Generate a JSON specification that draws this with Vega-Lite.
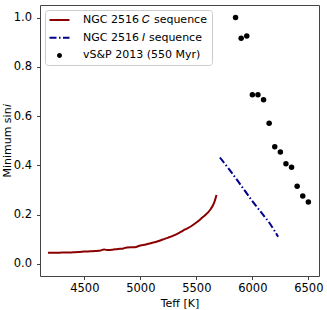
{
  "$schema": "https://vega.github.io/schema/vega-lite/v6.json",
  "width": 279,
  "height": 271,
  "autosize": {"type": "none"},
  "padding": {"left": 40, "top": 5, "right": 8, "bottom": 34},
  "background": "white",
  "config": {
    "font": "DejaVu Sans",
    "view": {"stroke": "#444", "strokeWidth": 1},
    "axis": {
      "domain": false,
      "grid": false,
      "tickColor": "#444",
      "tickSize": 3.5,
      "labelFontSize": 11.5,
      "labelColor": "black",
      "labelFont": "DejaVu Sans",
      "titleFont": "DejaVu Sans",
      "titleFontSize": 11,
      "titleFontWeight": "normal",
      "titleColor": "black",
      "labelPadding": 3
    }
  },
  "datasets": {
    "cseq": [
      {"T": 4175, "s": 0.045}, {"T": 4250, "s": 0.045}, {"T": 4300, "s": 0.046}, {"T": 4350, "s": 0.046},
      {"T": 4400, "s": 0.047}, {"T": 4450, "s": 0.048}, {"T": 4500, "s": 0.050}, {"T": 4550, "s": 0.051},
      {"T": 4600, "s": 0.052}, {"T": 4650, "s": 0.055}, {"T": 4675, "s": 0.059}, {"T": 4700, "s": 0.057},
      {"T": 4750, "s": 0.058}, {"T": 4800, "s": 0.061}, {"T": 4850, "s": 0.063}, {"T": 4880, "s": 0.067},
      {"T": 4950, "s": 0.068}, {"T": 5000, "s": 0.075}, {"T": 5050, "s": 0.079}, {"T": 5100, "s": 0.085},
      {"T": 5150, "s": 0.091}, {"T": 5200, "s": 0.099}, {"T": 5250, "s": 0.107}, {"T": 5300, "s": 0.116},
      {"T": 5350, "s": 0.127}, {"T": 5400, "s": 0.140}, {"T": 5450, "s": 0.152}, {"T": 5500, "s": 0.168},
      {"T": 5550, "s": 0.187}, {"T": 5600, "s": 0.207}, {"T": 5630, "s": 0.224}, {"T": 5660, "s": 0.250},
      {"T": 5680, "s": 0.280}
    ],
    "iseq": [
      {"T": 5710, "s": 0.432}, {"T": 5800, "s": 0.380}, {"T": 5900, "s": 0.318}, {"T": 6000, "s": 0.255},
      {"T": 6100, "s": 0.197}, {"T": 6150, "s": 0.168}, {"T": 6200, "s": 0.133}, {"T": 6230, "s": 0.110}
    ],
    "vsp": [
      {"T": 5850, "s": 1.0}, {"T": 5900, "s": 0.916}, {"T": 5950, "s": 0.925}, {"T": 6000, "s": 0.687},
      {"T": 6050, "s": 0.687}, {"T": 6100, "s": 0.666}, {"T": 6150, "s": 0.571}, {"T": 6200, "s": 0.476},
      {"T": 6250, "s": 0.454}, {"T": 6300, "s": 0.407}, {"T": 6350, "s": 0.392}, {"T": 6400, "s": 0.315},
      {"T": 6450, "s": 0.276}, {"T": 6500, "s": 0.251}
    ]
  },
  "encoding": {
    "x": {
      "field": "T", "type": "quantitative",
      "scale": {"domain": [4104, 6595], "nice": false, "zero": false},
      "axis": {"values": [4500, 5000, 5500, 6000, 6500], "format": "d", "title": "Teff [K]", "titlePadding": 3}
    },
    "y": {
      "field": "s", "type": "quantitative",
      "scale": {"domain": [-0.049, 1.051], "nice": false, "zero": false},
      "axis": {"values": [0, 0.2, 0.4, 0.6, 0.8, 1.0], "format": ".1f", "title": "Minimum sin𝑖", "titlePadding": 1, "labelPadding": 5}
    }
  },
  "layer": [
    {
      "data": {"name": "cseq"},
      "transform": [{"calculate": "'NGC 2516 𝐶 sequence'", "as": "series"}],
      "mark": {"type": "line", "strokeWidth": 2, "interpolate": "monotone"},
      "encoding": {
        "color": {
          "field": "series", "type": "nominal",
          "scale": {
            "domain": ["NGC 2516 𝐶 sequence", "NGC 2516 𝐼 sequence", "vS&P 2013 (550 Myr)"],
            "range": ["#8b0000", "#00008b", "black"]
          },
          "legend": {
            "title": null,
            "orient": "top-left",
            "offset": 5,
            "padding": 4.5,
            "fillColor": "rgba(255,255,255,0.8)",
            "strokeColor": "#cccccc",
            "cornerRadius": 3,
            "labelFont": "DejaVu Sans",
            "labelFontSize": 11,
            "labelColor": "black",
            "symbolSize": 100,
            "symbolOffset": 4.5,
            "labelOffset": 18,
            "rowPadding": 5.7,
            "symbolStrokeWidth": 2,
            "encode": {
              "symbols": {
                "update": {
                  "shape": {"signal": "datum.value === 'vS&P 2013 (550 Myr)' ? 'M0,-0.5A0.5,0.5 0 1,1 0,0.5A0.5,0.5 0 1,1 0,-0.5Z' : 'M-2,0H2'"},
                  "fill": {"signal": "datum.value === 'vS&P 2013 (550 Myr)' ? 'black' : 'transparent'"},
                  "stroke": {"signal": "datum.value === 'vS&P 2013 (550 Myr)' ? 'black' : (datum.value === 'NGC 2516 𝐶 sequence' ? '#8b0000' : '#00008b')"},
                  "strokeWidth": {"signal": "datum.value === 'vS&P 2013 (550 Myr)' ? 0 : 2"},
                  "strokeDash": {"signal": "datum.value === 'NGC 2516 𝐼 sequence' ? [7, 2.5, 1.5, 2.5] : [1, 0]"},
                  "opacity": {"value": 1}
                }
              }
            }
          }
        }
      }
    },
    {
      "data": {"name": "iseq"},
      "transform": [{"calculate": "'NGC 2516 𝐼 sequence'", "as": "series"}],
      "mark": {"type": "line", "strokeWidth": 2, "strokeDash": [7, 2.5, 1.5, 2.5], "interpolate": "monotone"},
      "encoding": {"color": {"field": "series", "type": "nominal"}}
    },
    {
      "data": {"name": "vsp"},
      "transform": [{"calculate": "'vS&P 2013 (550 Myr)'", "as": "series"}],
      "mark": {"type": "point", "filled": true, "size": 30, "opacity": 1},
      "encoding": {"color": {"field": "series", "type": "nominal"}}
    }
  ]
}
